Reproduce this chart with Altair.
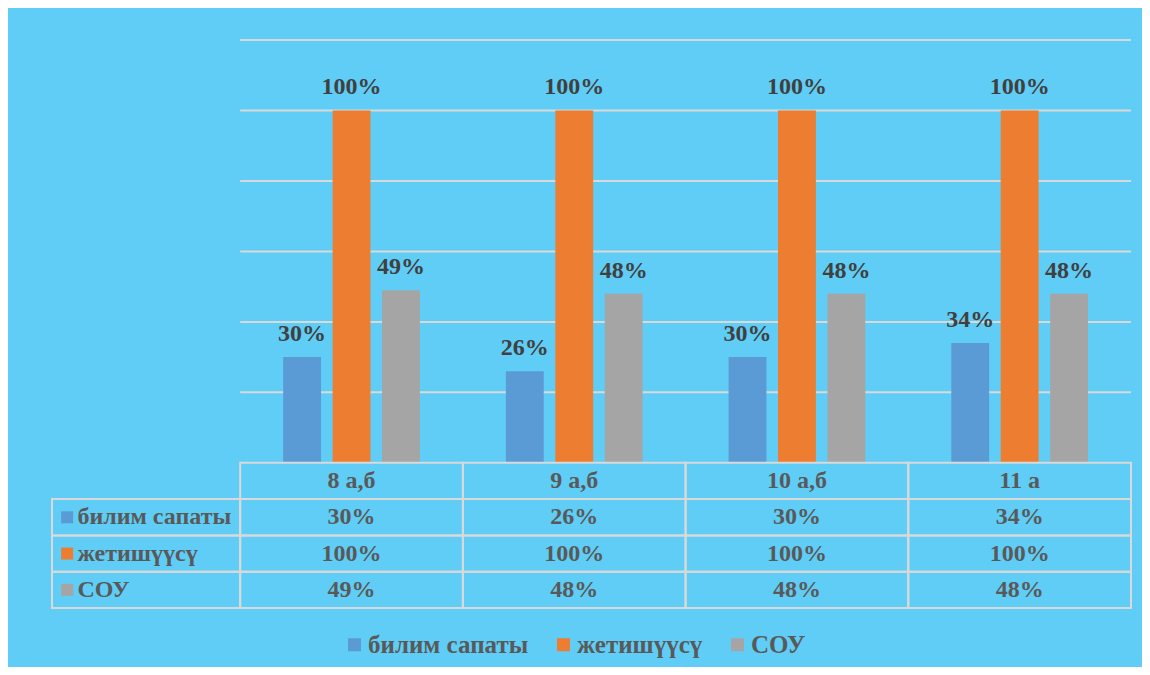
import altair as alt
import pandas as pd

categories = ["8 а,б", "9 а,б", "10 а,б", "11 а"]
series = ["билим сапаты", "жетишүүсү", "СОУ"]
quality = [0.30, 0.26, 0.30, 0.34]
achievement = [1.00, 1.00, 1.00, 1.00]
sou = [0.49, 0.48, 0.48, 0.48]
values = [quality, achievement, sou]
colors = ["#5B9BD5", "#ED7D31", "#A5A5A5"]
grid_ticks = [0.2, 0.4, 0.6, 0.8, 1.0, 1.2]

FONT = "Liberation Serif"
FS = 24
GRID = "#D9D9D9"
ROW_H = 0.103
LEFT = -0.845
BAR_STEP = 0.222
BAR_HALF = 0.085

bars = []
for si, s in enumerate(series):
    for ci, c in enumerate(categories):
        v = values[si][ci]
        center = ci + 0.5 + (si - 1) * BAR_STEP
        bars.append({"series": s, "cat": c, "xc": center, "x": center - BAR_HALF,
                     "x2": center + BAR_HALF, "v": v, "label": f"{round(v * 100)}%"})
bars_df = pd.DataFrame(bars)

cells = []
for ci, c in enumerate(categories):
    cells.append({"x": ci, "x2": ci + 1, "y": 0, "y2": -ROW_H, "text": c})
for si, s in enumerate(series):
    y, y2 = -(si + 1) * ROW_H, -(si + 2) * ROW_H
    cells.append({"x": LEFT, "x2": 0, "y": y, "y2": y2, "text": ""})
    for ci, c in enumerate(categories):
        cells.append({"x": ci, "x2": ci + 1, "y": y, "y2": y2,
                      "text": f"{round(values[si][ci] * 100)}%"})
cells_df = pd.DataFrame(cells)
cells_df["xm"] = (cells_df["x"] + cells_df["x2"]) / 2
cells_df["ym"] = (cells_df["y"] + cells_df["y2"]) / 2

row_labels = pd.DataFrame({
    "series": series,
    "ym": [-(i + 1.5) * ROW_H for i in range(len(series))],
    "xs": [LEFT + 0.068] * len(series),
    "xt": [LEFT + 0.114] * len(series),
})

grid_df = pd.DataFrame({"y": grid_ticks, "x": [0] * len(grid_ticks),
                        "x2": [len(categories)] * len(grid_ticks)})

xs = alt.Scale(domain=[LEFT, len(categories)], nice=False, zero=False)
ys = alt.Scale(domain=[-4 * ROW_H, 1.2], nice=False, zero=False)
color = alt.Color("series:N", scale=alt.Scale(domain=series, range=colors),
                  legend=alt.Legend(title=None, orient="none", direction="horizontal",
                                    legendX=290, legendY=592, symbolType="square",
                                    symbolSize=169, symbolStrokeWidth=0,
                                    labelFont=FONT, labelFontWeight="bold",
                                    labelFontSize=25, labelColor="#595959",
                                    labelLimit=400, columnPadding=22, padding=0,
                                    labelOffset=1))

grid = alt.Chart(grid_df).mark_rule(color=GRID, strokeWidth=2).encode(
    x=alt.X("x:Q", scale=xs, axis=None), x2="x2:Q",
    y=alt.Y("y:Q", scale=ys, axis=None))

bar = alt.Chart(bars_df).mark_bar().encode(
    x=alt.X("x:Q", scale=xs, axis=None), x2="x2:Q",
    y=alt.Y("v:Q", scale=ys, axis=None), y2=alt.datum(0),
    color=color)

lab = alt.Chart(bars_df).mark_text(font=FONT, fontWeight="bold", fontSize=FS,
                                   color="#404040", baseline="alphabetic", dy=-16).encode(
    x=alt.X("xc:Q", scale=xs, axis=None), y=alt.Y("v:Q", scale=ys, axis=None),
    text="label:N")

table = alt.Chart(cells_df).mark_rect(fill="transparent", stroke=GRID, strokeWidth=2).encode(
    x=alt.X("x:Q", scale=xs, axis=None), x2="x2:Q",
    y=alt.Y("y:Q", scale=ys, axis=None), y2="y2:Q")

table_text = alt.Chart(cells_df).mark_text(font=FONT, fontWeight="bold", fontSize=FS,
                                           color="#595959", baseline="middle").encode(
    x=alt.X("xm:Q", scale=xs, axis=None), y=alt.Y("ym:Q", scale=ys, axis=None),
    text="text:N")

squares = alt.Chart(row_labels).mark_point(shape="square", filled=True, size=144,
                                           opacity=1).encode(
    x=alt.X("xs:Q", scale=xs, axis=None), y=alt.Y("ym:Q", scale=ys, axis=None),
    color=color)

row_text = alt.Chart(row_labels).mark_text(font=FONT, fontWeight="bold", fontSize=FS,
                                           color="#595959", baseline="middle",
                                           align="left").encode(
    x=alt.X("xt:Q", scale=xs, axis=None), y=alt.Y("ym:Q", scale=ys, axis=None),
    text="series:N")

chart = alt.layer(grid, bar, lab, table, table_text, squares, row_text).properties(
    width=1079, height=568,
    padding={"left": 44, "top": 32, "right": 11, "bottom": 59},
    autosize=alt.AutoSizeParams(type="none"),
    background="#5FCDF5",
).configure_view(stroke=None)

chart.save("out.html", embed_options={"renderer": "svg", "actions": False})
